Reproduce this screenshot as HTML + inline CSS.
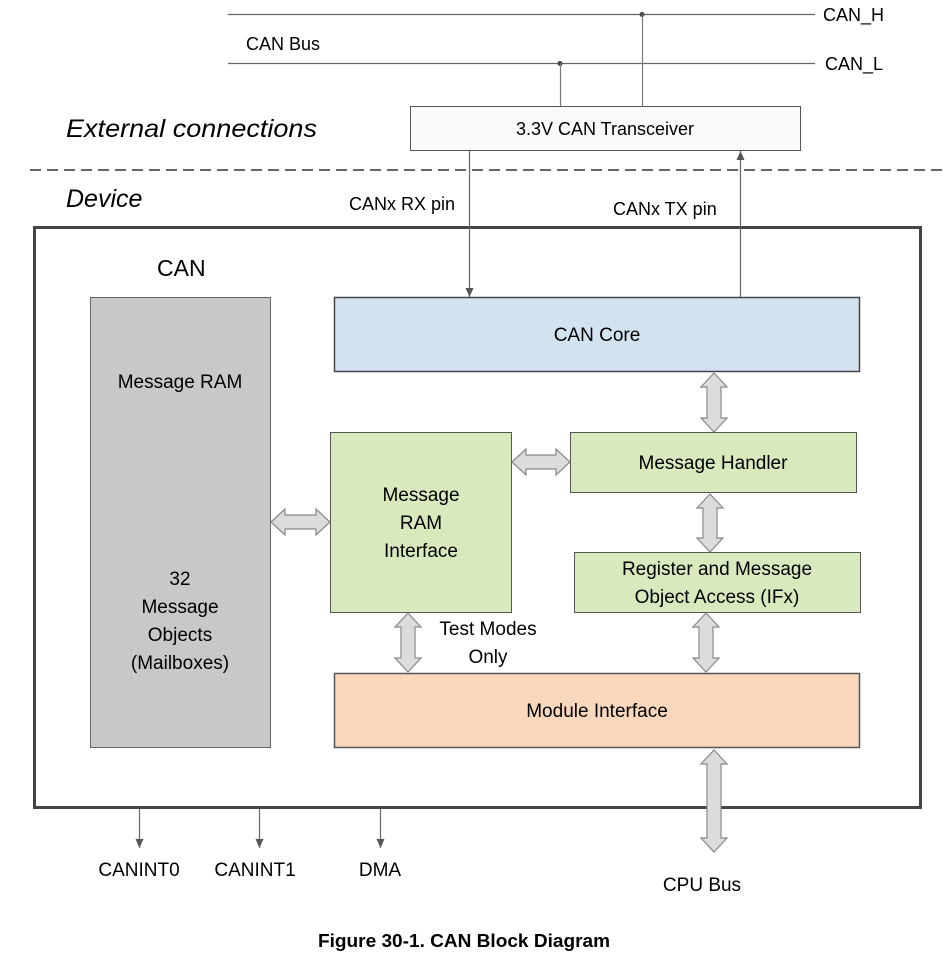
<!DOCTYPE html>
<html><head><meta charset="utf-8"><style>
html,body{margin:0;padding:0;background:#fff;}
svg text{font-family:"Liberation Sans",sans-serif;fill:#000;}
</style></head><body>
<svg width="948" height="954" viewBox="0 0 948 954" xmlns="http://www.w3.org/2000/svg">
<defs>
<marker id="ah" markerWidth="10" markerHeight="10" refX="9" refY="5" orient="auto" markerUnits="userSpaceOnUse">
<path d="M0,1 L9,5 L0,9 Z" fill="#555"/></marker>
</defs>
<line x1="228" y1="14.5" x2="815" y2="14.5" stroke="#666" stroke-width="1.3"/>
<line x1="228" y1="63.5" x2="815" y2="63.5" stroke="#666" stroke-width="1.3"/>
<circle cx="642" cy="14.5" r="2.5" fill="#444"/>
<circle cx="560" cy="63.5" r="2.5" fill="#444"/>
<line x1="642.5" y1="14" x2="642.5" y2="106" stroke="#777" stroke-width="1.2"/>
<line x1="560.5" y1="63" x2="560.5" y2="106" stroke="#777" stroke-width="1.2"/>
<text x="823" y="21" font-size="18">CAN_H</text>
<text x="825" y="70" font-size="18">CAN_L</text>
<text x="246" y="50" font-size="18">CAN Bus</text>
<rect x="410.5" y="106.5" width="390" height="44" fill="#fafafa" stroke="#555" stroke-width="1"/>
<text x="605" y="135" font-size="18" text-anchor="middle">3.3V CAN Transceiver</text>
<text x="66" y="137" font-size="25" font-style="italic" textLength="251" lengthAdjust="spacingAndGlyphs">External connections</text>
<line x1="30" y1="170" x2="948" y2="170" stroke="#666" stroke-width="2" stroke-dasharray="11,6"/>
<text x="66" y="207" font-size="25" font-style="italic">Device</text>
<text x="349" y="210" font-size="18">CANx RX pin</text>
<text x="613" y="215" font-size="18">CANx TX pin</text>
<rect x="34.5" y="227.5" width="886" height="580" fill="none" stroke="#444" stroke-width="3"/>
<text x="157" y="276" font-size="23">CAN</text>
<line x1="469.5" y1="151" x2="469.5" y2="297" stroke="#666" stroke-width="1.2" marker-end="url(#ah)"/>
<line x1="740.5" y1="297" x2="740.5" y2="151" stroke="#666" stroke-width="1.2" marker-end="url(#ah)"/>
<rect x="90.5" y="297.5" width="180" height="450" fill="#c8c8c8" stroke="#666" stroke-width="1"/>
<text x="180" y="388" font-size="19" text-anchor="middle">Message RAM</text>
<text x="180" y="585" font-size="19" text-anchor="middle">32</text>
<text x="180" y="613" font-size="19" text-anchor="middle">Message</text>
<text x="180" y="641" font-size="19" text-anchor="middle">Objects</text>
<text x="180" y="669" font-size="19" text-anchor="middle">(Mailboxes)</text>
<rect x="334.5" y="297.5" width="525" height="74" fill="#d3e2ef" stroke="#444" stroke-width="1.5"/>
<text x="597" y="341" font-size="19" text-anchor="middle">CAN Core</text>
<rect x="330.5" y="432.5" width="181" height="180" fill="#d7e9bd" stroke="#555" stroke-width="1"/>
<text x="421" y="501" font-size="19" text-anchor="middle">Message</text>
<text x="421" y="529" font-size="19" text-anchor="middle">RAM</text>
<text x="421" y="557" font-size="19" text-anchor="middle">Interface</text>
<rect x="570.5" y="432.5" width="286" height="60" fill="#d7e9bd" stroke="#555" stroke-width="1"/>
<text x="713" y="469" font-size="19" text-anchor="middle">Message Handler</text>
<rect x="574.5" y="552.5" width="286" height="60" fill="#d7e9bd" stroke="#555" stroke-width="1"/>
<text x="717" y="575" font-size="19" text-anchor="middle">Register and Message</text>
<text x="717" y="603" font-size="19" text-anchor="middle">Object Access (IFx)</text>
<rect x="334.5" y="673.5" width="525" height="74" fill="#f8d7bc" stroke="#555" stroke-width="1.5"/>
<text x="597" y="717" font-size="19" text-anchor="middle">Module Interface</text>
<text x="488" y="635" font-size="19" text-anchor="middle">Test Modes</text>
<text x="488" y="663" font-size="19" text-anchor="middle">Only</text>
<g fill="#dcdcdc" stroke="#888" stroke-width="1.2">
<polygon points="714,373 727,387 721,387 721,418 727,418 714,432 701,418 707,418 707,387 701,387"/>
<polygon points="710,494 723,508 717,508 717,538 723,538 710,552 697,538 703,538 703,508 697,508"/>
<polygon points="408,613 421,627 415,627 415,658 421,658 408,672 395,658 401,658 401,627 395,627"/>
<polygon points="706,613 719,627 713,627 713,658 719,658 706,672 693,658 699,658 699,627 693,627"/>
<polygon points="714,750 727,764 721,764 721,838 727,838 714,852 701,838 707,838 707,764 701,764"/>
<polygon points="271,522 285,509 285,515 316,515 316,509 330,522 316,535 316,529 285,529 285,535"/>
<polygon points="512,462 526,449 526,455 556,455 556,449 570,462 556,475 556,469 526,469 526,475"/>
</g>
<line x1="139.5" y1="809" x2="139.5" y2="848" stroke="#666" stroke-width="1.2" marker-end="url(#ah)"/>
<line x1="259.5" y1="809" x2="259.5" y2="848" stroke="#666" stroke-width="1.2" marker-end="url(#ah)"/>
<line x1="380.5" y1="809" x2="380.5" y2="848" stroke="#666" stroke-width="1.2" marker-end="url(#ah)"/>
<text x="139" y="876" font-size="19" text-anchor="middle">CANINT0</text>
<text x="255" y="876" font-size="19" text-anchor="middle">CANINT1</text>
<text x="380" y="876" font-size="19" text-anchor="middle">DMA</text>
<text x="702" y="891" font-size="19" text-anchor="middle">CPU Bus</text>
<text x="464" y="947" font-size="18" font-weight="bold" text-anchor="middle" textLength="292" lengthAdjust="spacingAndGlyphs">Figure 30-1. CAN Block Diagram</text>
</svg>
</body></html>
